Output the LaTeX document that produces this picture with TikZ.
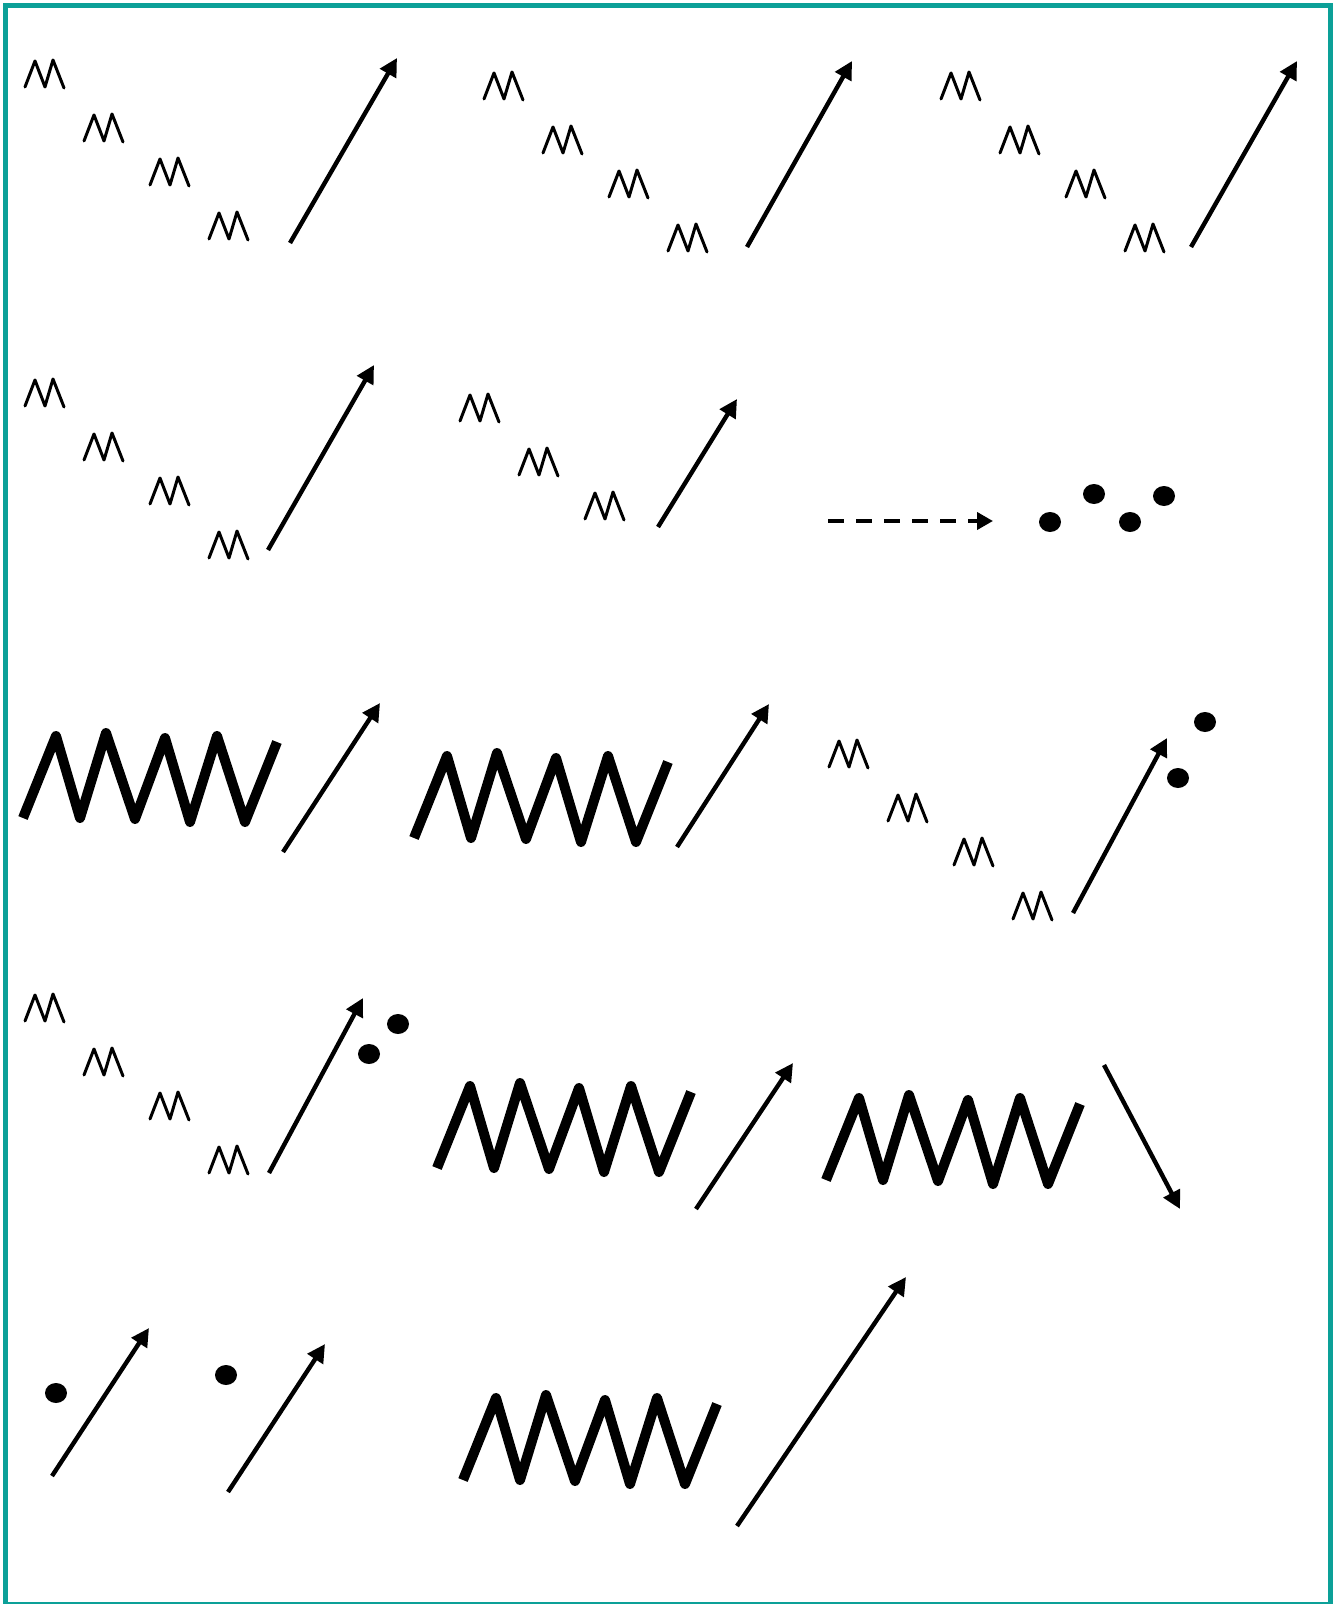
\documentclass[tikz,border=0pt]{standalone}
\usetikzlibrary{arrows.meta}
\definecolor{frameteal}{RGB}{12,160,152}
\begin{document}
\begin{tikzpicture}[x=0.5pt,y=-0.5pt,
  arr/.style={line width=2.2pt,-{Triangle[length=9pt,width=9pt]}},
  dasharr/.style={line width=1.9pt,dash pattern=on 8pt off 6pt,-{Triangle[length=8pt,width=8.5pt]}},
  mstroke/.style={line width=1.5pt,line join=round,line cap=round},
  zz/.style={line width=5pt,line join=round},
  blackdot/.style={fill=black},
  pics/mglyph/.style={code={\draw[mstroke] (0,0)--(10,-26)--(20,0)--(28,-27)--(39,1);}},
  pics/zigzag/.style={code={\draw[zz] (0,0)--(33,-82)--(57,0)--(83,-85)--(112,1)--(142,-80)--(167,4)--(194,-82)--(222,4)--(254,-76);}},
  pics/mgroup/.style={code={\pic at (0,0) {mglyph}; \pic at (59,54) {mglyph}; \pic at (125,98) {mglyph}; \pic at (184,152) {mglyph};}},
  pics/mgroupthree/.style={code={\pic at (0,0) {mglyph}; \pic at (59,54) {mglyph}; \pic at (125,98) {mglyph};}}
]
\useasboundingbox (0,0) rectangle (1340,1604);
\fill[white] (0,0) rectangle (1340,1604);
\draw[frameteal,line width=2.5pt] (5.5,5.5) rectangle (1330,1604);

% Row 1
\pic at (25,87) {mgroup};
\draw[arr] (290,243) coordinate (r1a1s) -- (397,58) coordinate (r1a1e);
\pic at (484,99) {mgroup};
\draw[arr] (747,247) coordinate (r1a2s) -- (852,61) coordinate (r1a2e);
\pic at (941,99) {mgroup};
\draw[arr] (1191,247) coordinate (r1a3s) -- (1297,61) coordinate (r1a3e);

% Row 2
\pic at (25,406) {mgroup};
\draw[arr] (268,550) coordinate (r2a1s) -- (374,365) coordinate (r2a1e);
\pic at (460,421) {mgroupthree};
\draw[arr] (658,527) coordinate (r2a2s) -- (737,399) coordinate (r2a2e);
\draw[dasharr] (828,521) coordinate (r2ds) -- (993,521) coordinate (r2de);
\fill[blackdot] (1050,522) ellipse [x radius=11, y radius=10];
\fill[blackdot] (1094,494) ellipse [x radius=11, y radius=10];
\fill[blackdot] (1130,522) ellipse [x radius=11, y radius=10];
\fill[blackdot] (1164,496) ellipse [x radius=11, y radius=10];

% Row 3
\pic at (23,818) {zigzag};
\draw[arr] (283,852) coordinate (r3a1s) -- (380,703) coordinate (r3a1e);
\pic at (414,838) {zigzag};
\draw[arr] (677,847) coordinate (r3a2s) -- (769,704) coordinate (r3a2e);
\pic at (829,767) {mgroup};
\draw[arr] (1073,913) coordinate (r3a3s) -- (1167,738) coordinate (r3a3e);
\fill[blackdot] (1205,722) ellipse [x radius=11, y radius=10];
\fill[blackdot] (1178,778) ellipse [x radius=11, y radius=10];

% Row 4
\pic at (25,1021) {mgroup};
\draw[arr] (269,1173) coordinate (r4a1s) -- (363,998) coordinate (r4a1e);
\fill[blackdot] (398,1024) ellipse [x radius=11, y radius=10];
\fill[blackdot] (369,1054) ellipse [x radius=11, y radius=10];
\pic at (437,1168) {zigzag};
\draw[arr] (696,1209) coordinate (r4a2s) -- (793,1063) coordinate (r4a2e);
\pic at (826,1180) {zigzag};
\draw[arr] (1104,1065) coordinate (r4a3s) -- (1180,1209) coordinate (r4a3e);

% Row 5
\fill[blackdot] (56,1393) ellipse [x radius=11, y radius=10];
\draw[arr] (52,1476) coordinate (r5a1s) -- (149,1328) coordinate (r5a1e);
\fill[blackdot] (226,1375) ellipse [x radius=11, y radius=10];
\draw[arr] (228,1492) coordinate (r5a2s) -- (325,1344) coordinate (r5a2e);
\pic at (463,1480) {zigzag};
\draw[arr] (737,1526) coordinate (r5a3s) -- (906,1277) coordinate (r5a3e);
\end{tikzpicture}
\end{document}
